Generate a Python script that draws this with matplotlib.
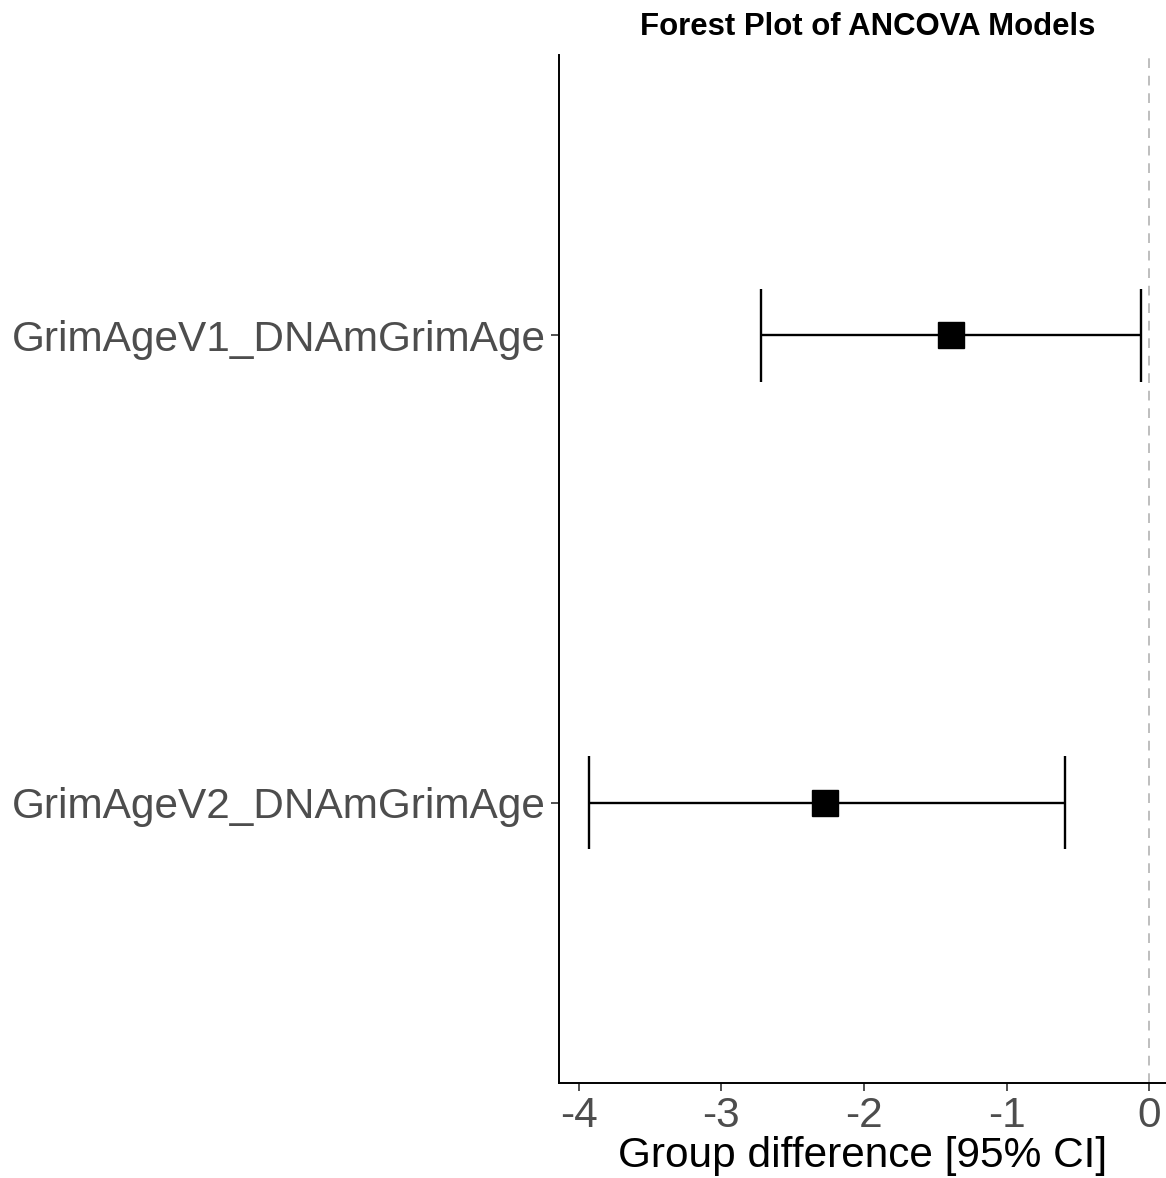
import numpy as np
import matplotlib.pyplot as plt

# Daten
modelle = ['GrimAgeV1_DNAmGrimAge', 'GrimAgeV2_DNAmGrimAge']
schaetzer = [-1.39, -2.27]
ci_unten = [-2.72, -3.93]
ci_oben = [-0.06, -0.59]

plt.rcParams['font.family'] = ['Liberation Sans', 'DejaVu Sans']

fig = plt.figure(figsize=(11.66, 11.78), dpi=100)
# Panel: links 559 px, oben 55 px, unten 1083 px
ax = fig.add_axes([559/1166, 1 - 1083/1178, 607/1166, 1028/1178])

y = np.arange(1, len(modelle) + 1)
schaetzer = np.array(schaetzer)
err = [schaetzer - np.array(ci_unten), np.array(ci_oben) - schaetzer]

ax.axvline(0, color='#BEBEBE', linestyle=(0, (5, 4)), linewidth=1.4, zorder=1)
ax.errorbar(schaetzer, y, xerr=err, fmt='none', ecolor='black',
            elinewidth=1.7, capsize=0, zorder=2)
# Kappen wie bei geom_errorbar (Breite 0.2)
ax.vlines(ci_unten, y - 0.1, y + 0.1, color='black', linewidth=1.7, zorder=2)
ax.vlines(ci_oben, y - 0.1, y + 0.1, color='black', linewidth=1.7, zorder=2)
ax.plot(schaetzer, y, 's', color='black', markersize=19.4, zorder=3)

ax.set_ylim(2.6, 0.4)
ax.set_xlim(-4.137, -4.137 + 607/142.7)
ax.set_yticks(y)
ax.set_yticklabels(modelle)
ax.set_xticks([-4, -3, -2, -1, 0])
ax.set_xticklabels(['-4', '-3', '-2', '-1', '0'])

for s in ['top', 'right']:
    ax.spines[s].set_visible(False)
for s in ['left', 'bottom']:
    ax.spines[s].set_linewidth(1.4)
    ax.spines[s].set_color('black')

ax.tick_params(axis='both', labelsize=30.5, labelcolor='#4D4D4D',
               color='#333333', width=1.2, length=5.5, pad=4)

ax.set_xlabel('Group difference [95% CI]', fontsize=30.5, color='black', labelpad=0)

# Titel über dem (teilweise abgeschnittenen) Panel zentriert
fig.text(868/1166, 1 - 27/1178, 'Forest Plot of ANCOVA Models', fontsize=22.4,
         fontweight='bold', ha='center', va='center')

fig.savefig('out.png', dpi=100)
